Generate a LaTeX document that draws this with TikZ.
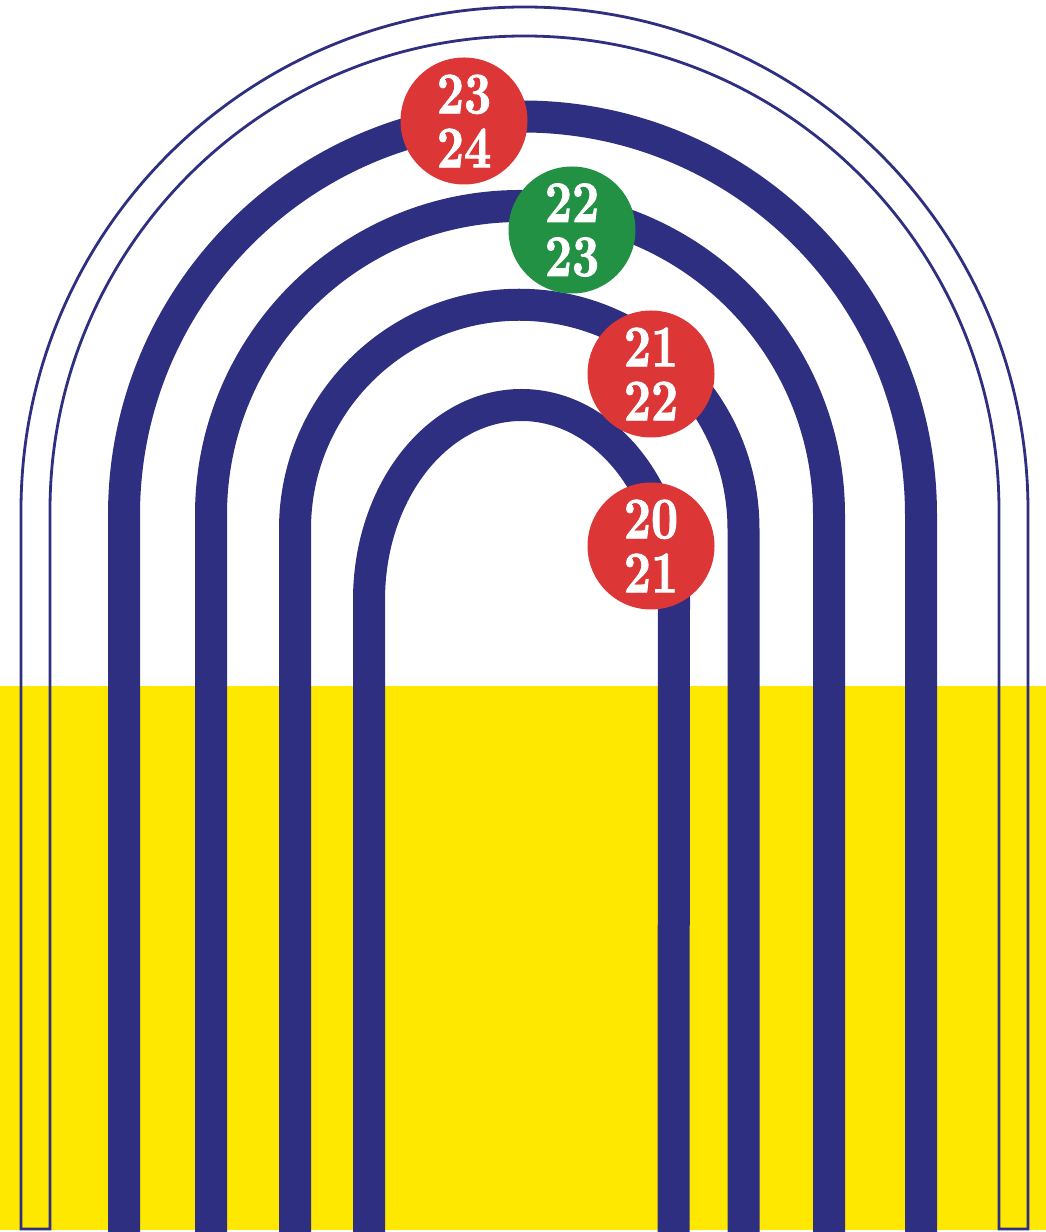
\documentclass[tikz,border=0pt]{standalone}
\usepackage{fontspec}
\newfontfamily\numfont[Extension=.otf,FakeStretch=0.8,FakeBold=1.4]{lmroman10-bold}
\definecolor{navy}{HTML}{2E2F80}
\definecolor{sunyellow}{HTML}{FFE800}
\definecolor{badgered}{HTML}{DD3636}
\definecolor{badgegreen}{HTML}{229144}
\tikzset{
  band/.style={draw=navy,line width=32pt,line cap=butt,line join=round},
  outline/.style={draw=navy,line width=2.8pt,line join=miter},
  badge/.style={circle,minimum size=127pt,inner sep=0pt,text=white,align=center,
    font=\numfont\fontsize{59}{54}\selectfont},
}
\begin{document}
\begin{tikzpicture}[x=1pt,y=1pt]
\useasboundingbox (0,0) rectangle (1046,1232);
% yellow ground
\fill[sunyellow] (0,2) rectangle (1046,546);
% double outline
\draw[outline] (21,3) -- (21,721.5) arc[start angle=180,end angle=0,radius=503.5]
  -- (1028,3) -- (999,3) -- (999,721.5) arc[start angle=0,end angle=180,radius=474.5]
  -- (50,3) -- cycle;
% thick arches
\draw[band] (124,0) -- (124,717) arc[start angle=180,end angle=0,radius=398.5] -- (921,0);
\draw[band] (211,0) -- (211,717) arc[start angle=180,end angle=0,radius=309] -- (829,0);
\draw[band] (295,0) -- (295,703) arc[start angle=180,end angle=0,radius=224.25] -- (743.5,0);
\draw[band] (369,0) -- (369,632) arc[start angle=180,end angle=0,x radius=152.5,y radius=195] -- (673.5,0);
% badges
\node[badge,fill=badgered]   (b1) at (464,1111) {23\\24};
\node[badge,fill=badgegreen] (b2) at (572,1002) {22\\23};
\node[badge,fill=badgered]   (b3) at (651,858)  {21\\22};
\node[badge,fill=badgered]   (b4) at (651,686)  {20\\21};
\end{tikzpicture}
\end{document}
